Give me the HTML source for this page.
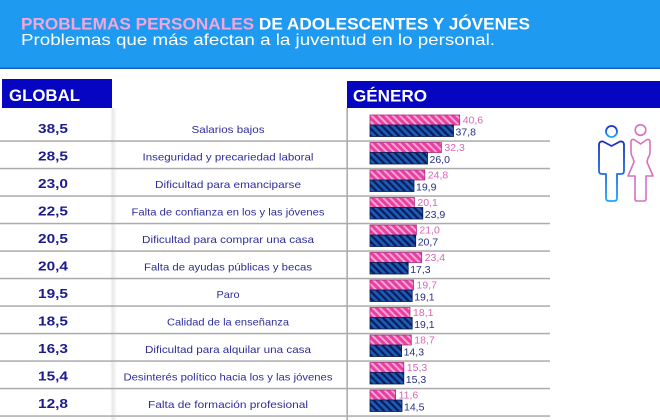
<!DOCTYPE html>
<html><head><meta charset="utf-8"><style>
html,body{margin:0;padding:0;background:#fff;}
svg{display:block;}
text{font-family:"Liberation Sans",sans-serif;}
</style></head><body>
<svg width="660" height="420" viewBox="0 0 660 420" xmlns="http://www.w3.org/2000/svg">
<defs>
<pattern id="pk" width="5" height="5" patternUnits="userSpaceOnUse" patternTransform="rotate(-45)">
<rect width="5" height="5" fill="#e9409f"/><rect width="2" height="5" fill="#f7a3d6"/>
</pattern>
<pattern id="bl" width="5" height="5" patternUnits="userSpaceOnUse" patternTransform="rotate(-45)">
<rect width="5" height="5" fill="#1c5cb4"/><rect width="2.2" height="5" fill="#0b1c5c"/>
</pattern>
<linearGradient id="mg" x1="0" y1="0" x2="0" y2="1">
<stop offset="0" stop-color="#1e2cc4"/><stop offset="1" stop-color="#1ea6f5"/>
</linearGradient>
<linearGradient id="sh" x1="0" y1="0" x2="1" y2="0">
<stop offset="0" stop-color="#000" stop-opacity="0"/><stop offset="0.4" stop-color="#000" stop-opacity="0.09"/><stop offset="1" stop-color="#000" stop-opacity="0"/>
</linearGradient>
</defs>

<!-- header -->
<rect x="0" y="0" width="660" height="69" fill="#1e9bf0"/>
<rect x="0" y="67.5" width="660" height="1.5" fill="#1560c4"/>
<text x="21" y="29.5" font-size="16.5" font-weight="bold" textLength="509" lengthAdjust="spacingAndGlyphs"><tspan fill="#f4a5da">PROBLEMAS PERSONALES </tspan><tspan fill="#ffffff">DE ADOLESCENTES Y JÓVENES</tspan></text>
<text x="21" y="45" font-size="16" fill="#ffffff" textLength="474" lengthAdjust="spacingAndGlyphs">Problemas que más afectan a la juventud en lo personal.</text>

<!-- section headers -->
<rect x="2" y="79" width="110" height="29" fill="#0606c2"/>
<text x="9" y="101" font-size="17" font-weight="bold" fill="#fff" textLength="71" lengthAdjust="spacingAndGlyphs">GLOBAL</text>
<rect x="347" y="81" width="313" height="27" fill="#0606c2"/>
<text x="353" y="101.5" font-size="17" font-weight="bold" fill="#fff" textLength="74" lengthAdjust="spacingAndGlyphs">GÉNERO</text>

<!-- shadows / verticals -->
<rect x="110" y="108" width="7" height="312" fill="url(#sh)"/>
<rect x="346.5" y="108" width="1.3" height="312" fill="#9a9a9a"/>

<!-- row lines -->
<g fill="#ababab">
<rect x="0" y="140.3" width="550" height="1.5"/>
<rect x="0" y="167.8" width="550" height="1.5"/>
<rect x="0" y="195.3" width="550" height="1.5"/>
<rect x="0" y="222.8" width="550" height="1.5"/>
<rect x="0" y="250.3" width="550" height="1.5"/>
<rect x="0" y="277.8" width="550" height="1.5"/>
<rect x="0" y="305.3" width="550" height="1.5"/>
<rect x="0" y="332.8" width="550" height="1.5"/>
<rect x="0" y="360.3" width="550" height="1.5"/>
<rect x="0" y="387.8" width="550" height="1.5"/>
<rect x="0" y="415.3" width="550" height="1.5"/>
</g>

<!-- global values -->
<g font-size="13" font-weight="bold" fill="#1b1b8f" text-anchor="middle">
<text x="53" y="133" textLength="30" lengthAdjust="spacingAndGlyphs">38,5</text>
<text x="53" y="160.5" textLength="30" lengthAdjust="spacingAndGlyphs">28,5</text>
<text x="53" y="188" textLength="30" lengthAdjust="spacingAndGlyphs">23,0</text>
<text x="53" y="215.5" textLength="30" lengthAdjust="spacingAndGlyphs">22,5</text>
<text x="53" y="243" textLength="30" lengthAdjust="spacingAndGlyphs">20,5</text>
<text x="53" y="270.5" textLength="30" lengthAdjust="spacingAndGlyphs">20,4</text>
<text x="53" y="298" textLength="30" lengthAdjust="spacingAndGlyphs">19,5</text>
<text x="53" y="325.5" textLength="30" lengthAdjust="spacingAndGlyphs">18,5</text>
<text x="53" y="353" textLength="30" lengthAdjust="spacingAndGlyphs">16,3</text>
<text x="53" y="380.5" textLength="30" lengthAdjust="spacingAndGlyphs">15,4</text>
<text x="53" y="408" textLength="30" lengthAdjust="spacingAndGlyphs">12,8</text>
</g>

<!-- labels -->
<g font-size="10.5" fill="#2d2d9a" text-anchor="middle">
<text x="228" y="133" textLength="73" lengthAdjust="spacingAndGlyphs">Salarios bajos</text>
<text x="228" y="160.5" textLength="171" lengthAdjust="spacingAndGlyphs">Inseguridad y precariedad laboral</text>
<text x="228" y="188" textLength="146" lengthAdjust="spacingAndGlyphs">Dificultad para emanciparse</text>
<text x="228" y="215.5" textLength="193" lengthAdjust="spacingAndGlyphs">Falta de confianza en los y las jóvenes</text>
<text x="228" y="243" textLength="172" lengthAdjust="spacingAndGlyphs">Dificultad para comprar una casa</text>
<text x="228" y="270.5" textLength="168" lengthAdjust="spacingAndGlyphs">Falta de ayudas públicas y becas</text>
<text x="228" y="298" textLength="23" lengthAdjust="spacingAndGlyphs">Paro</text>
<text x="228" y="325.5" textLength="122" lengthAdjust="spacingAndGlyphs">Calidad de la enseñanza</text>
<text x="228" y="353" textLength="166" lengthAdjust="spacingAndGlyphs">Dificultad para alquilar una casa</text>
<text x="228" y="380.5" textLength="209" lengthAdjust="spacingAndGlyphs">Desinterés político hacia los y las jóvenes</text>
<text x="228" y="408" textLength="160" lengthAdjust="spacingAndGlyphs">Falta de formación profesional</text>
</g>

<!-- bars -->
<g stroke-width="0.8">
<rect x="370" y="115" width="89.7" height="10" fill="url(#pk)" stroke="#b02a80"/>
<rect x="370" y="125" width="83.5" height="11.5" fill="url(#bl)" stroke="#0a1a50"/>
<rect x="370" y="142.5" width="71.4" height="10" fill="url(#pk)" stroke="#b02a80"/>
<rect x="370" y="152.5" width="57.5" height="11.5" fill="url(#bl)" stroke="#0a1a50"/>
<rect x="370" y="170" width="54.8" height="10" fill="url(#pk)" stroke="#b02a80"/>
<rect x="370" y="180" width="44.0" height="11.5" fill="url(#bl)" stroke="#0a1a50"/>
<rect x="370" y="197.5" width="44.4" height="10" fill="url(#pk)" stroke="#b02a80"/>
<rect x="370" y="207.5" width="52.8" height="11.5" fill="url(#bl)" stroke="#0a1a50"/>
<rect x="370" y="225" width="46.4" height="10" fill="url(#pk)" stroke="#b02a80"/>
<rect x="370" y="235" width="45.7" height="11.5" fill="url(#bl)" stroke="#0a1a50"/>
<rect x="370" y="252.5" width="51.7" height="10" fill="url(#pk)" stroke="#b02a80"/>
<rect x="370" y="262.5" width="38.2" height="11.5" fill="url(#bl)" stroke="#0a1a50"/>
<rect x="370" y="280" width="43.5" height="10" fill="url(#pk)" stroke="#b02a80"/>
<rect x="370" y="290" width="42.2" height="11.5" fill="url(#bl)" stroke="#0a1a50"/>
<rect x="370" y="307.5" width="40.0" height="10" fill="url(#pk)" stroke="#b02a80"/>
<rect x="370" y="317.5" width="42.2" height="11.5" fill="url(#bl)" stroke="#0a1a50"/>
<rect x="370" y="335" width="41.3" height="10" fill="url(#pk)" stroke="#b02a80"/>
<rect x="370" y="345" width="31.6" height="11.5" fill="url(#bl)" stroke="#0a1a50"/>
<rect x="370" y="362.5" width="33.8" height="10" fill="url(#pk)" stroke="#b02a80"/>
<rect x="370" y="372.5" width="33.8" height="11.5" fill="url(#bl)" stroke="#0a1a50"/>
<rect x="370" y="390" width="25.6" height="10" fill="url(#pk)" stroke="#b02a80"/>
<rect x="370" y="400" width="32.0" height="11.5" fill="url(#bl)" stroke="#0a1a50"/>
</g>

<!-- bar values -->
<g font-size="10.5">
<g fill="#d966b9">
<text x="462.7" y="123.5">40,6</text>
<text x="444.4" y="151">32,3</text>
<text x="427.8" y="178.5">24,8</text>
<text x="417.4" y="206">20,1</text>
<text x="419.4" y="233.5">21,0</text>
<text x="424.7" y="261">23,4</text>
<text x="416.5" y="288.5">19,7</text>
<text x="413" y="316">18,1</text>
<text x="414.3" y="343.5">18,7</text>
<text x="406.8" y="371">15,3</text>
<text x="398.6" y="398.5">11,6</text>
</g>
<g fill="#25307f">
<text x="455.5" y="135.5">37,8</text>
<text x="429.5" y="163">26,0</text>
<text x="416" y="190.5">19,9</text>
<text x="424.8" y="218">23,9</text>
<text x="417.7" y="245.5">20,7</text>
<text x="410.2" y="273">17,3</text>
<text x="414.2" y="300.5">19,1</text>
<text x="414.2" y="328">19,1</text>
<text x="403.6" y="355.5">14,3</text>
<text x="405.8" y="383">15,3</text>
<text x="404" y="410.5">14,5</text>
</g>
</g>

<!-- icons -->
<g fill="none" stroke="url(#mg)" stroke-width="1.8" stroke-linejoin="round">
<circle cx="611.5" cy="131.5" r="5.5"/>
<path d="M611.5,146 L603,141.5 Q599,141 599,145 L599,171 Q599,174 602,174 L606,174 L606,198 Q606,201 609,201 L614,201 Q617,201 617,198 L617,174 L621,174 Q624,174 624,171 L624,145 Q624,141 620,141.5 Z"/>
</g>
<g fill="none" stroke="#d870c2" stroke-width="1.6" stroke-linejoin="round">
<circle cx="640.5" cy="130" r="5.3"/>
<path d="M640.5,144 L634,139.5 Q631,139 631,142 L631,152 Q631,155 633,158 L634,162 L628,176 L635,176 L635,199 Q635,201 637,201 L644,201 Q646,201 646,199 L646,176 L653,176 L647,162 L648,158 Q650,155 650,152 L650,142 Q650,139 647,139.5 Z"/>
</g>
</svg>
</body></html>
